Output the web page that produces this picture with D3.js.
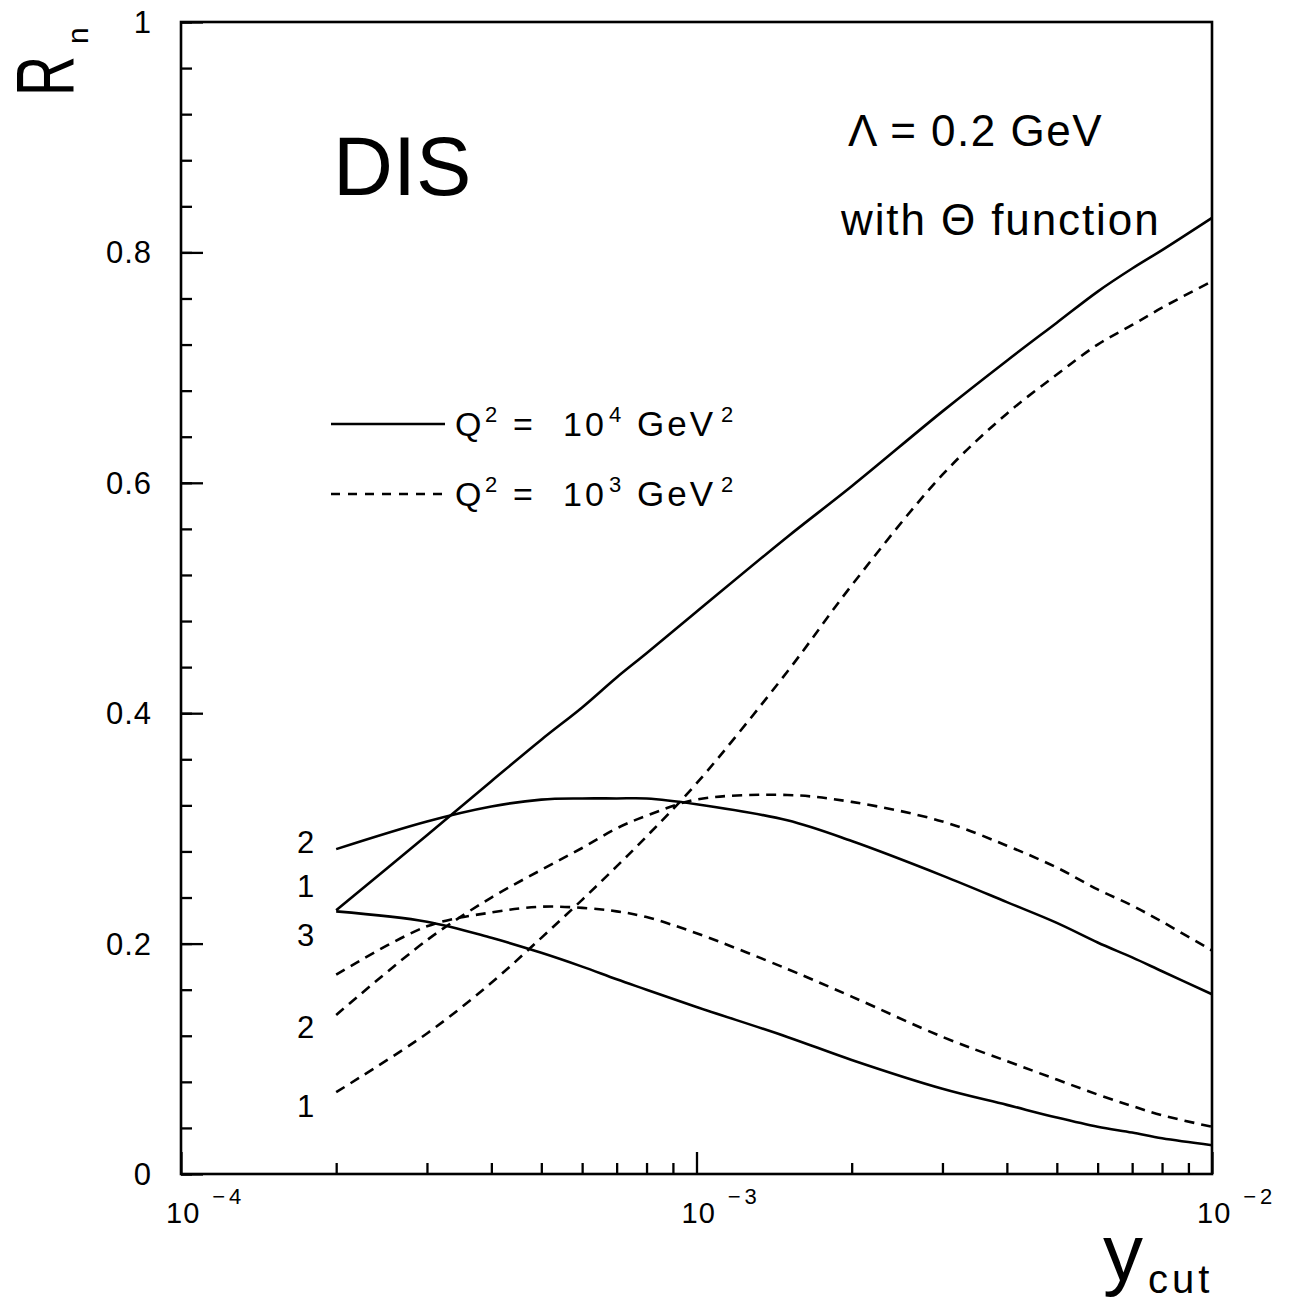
<!DOCTYPE html>
<html>
<head>
<meta charset="utf-8">
<script src="https://cdn.jsdelivr.net/npm/d3@7/dist/d3.min.js"></script>
<style>
  html, body { margin: 0; padding: 0; background: #fff; }
  svg { display: block; }
  text { font-family: "Liberation Sans", Arial, Helvetica, sans-serif; fill: #000; }
</style>
</head>
<body>
<svg id="chart" width="1293" height="1306"></svg>
<script>
// ---------------- data ----------------
const ycut = [2e-4, 3e-4, 4e-4, 5e-4, 6e-4, 7e-4, 8e-4, 1e-3, 1.5e-3, 2e-3, 3e-3, 4e-3, 5e-3, 6e-3, 7e-3, 8e-3, 1e-2];

// Q^2 = 10^4 GeV^2 (solid)
const solid1 = [0.229, 0.294, 0.341, 0.377, 0.405, 0.431, 0.452, 0.488, 0.553, 0.597, 0.662, 0.706, 0.739, 0.766, 0.786, 0.802, 0.830];
const solid2 = [0.282, 0.306, 0.319, 0.325, 0.326, 0.326, 0.326, 0.321, 0.307, 0.289, 0.259, 0.236, 0.218, 0.201, 0.188, 0.176, 0.156];
const solid3 = [0.228, 0.219, 0.205, 0.192, 0.180, 0.169, 0.160, 0.145, 0.119, 0.099, 0.074, 0.060, 0.049, 0.041, 0.036, 0.031, 0.025];

// Q^2 = 10^3 GeV^2 (dashed)
const dashed1 = [0.071, 0.122, 0.166, 0.205, 0.238, 0.267, 0.293, 0.339, 0.436, 0.511, 0.607, 0.660, 0.694, 0.720, 0.737, 0.752, 0.775];
const dashed2 = [0.138, 0.203, 0.240, 0.264, 0.283, 0.300, 0.311, 0.325, 0.329, 0.323, 0.306, 0.285, 0.266, 0.247, 0.233, 0.219, 0.194];
const dashed3 = [0.173, 0.215, 0.227, 0.232, 0.231, 0.228, 0.223, 0.209, 0.178, 0.154, 0.119, 0.098, 0.082, 0.069, 0.059, 0.051, 0.041];

const yMajorTicks = [0, 0.2, 0.4, 0.6, 0.8, 1];
const yTickLabels = ["0", "0.2", "0.4", "0.6", "0.8", "1"];
const yMinorTicks = d3.range(0, 1.0001, 0.04);
const xDecadeExps = [-4, -3, -2];
const xMinorMultipliers = [2, 3, 4, 5, 6, 7, 8, 9];

const curveLabels = ["2", "1", "3", "2", "1"];
const curveLabelValues = [0.288, 0.250, 0.2075, 0.128, 0.059];

const legendExponents = ["4", "3"];

// ---------------- layout ----------------
const svg = d3.select("#chart");
const L = 181, R = 1212, T = 22, B = 1174;
const x = d3.scaleLog().domain([1e-4, 1e-2]).range([L, R]);
const y = d3.scaleLinear().domain([0, 1]).range([B, T]);

const g = svg.append("g");

const xMinor = [];
xDecadeExps.slice(0, -1).forEach(e => xMinorMultipliers.forEach(m => xMinor.push(m * Math.pow(10, e))));
const xMajor = xDecadeExps.map(e => Math.pow(10, e));

function styleAxis(sel) {
  sel.select(".domain").remove();
  sel.selectAll("line").attr("stroke", "#000").attr("stroke-width", 2.3);
  sel.selectAll("text").remove();
}

g.append("g").attr("transform", `translate(0,${B})`)
  .call(d3.axisBottom(x).tickValues(xMinor).tickSize(-11).tickFormat(""))
  .call(styleAxis);
g.append("g").attr("transform", `translate(0,${B})`)
  .call(d3.axisBottom(x).tickValues(xMajor).tickSize(-22).tickFormat(""))
  .call(styleAxis);
g.append("g").attr("transform", `translate(${L},0)`)
  .call(d3.axisLeft(y).tickValues(yMinorTicks).tickSize(-11).tickFormat(""))
  .call(styleAxis);
g.append("g").attr("transform", `translate(${L},0)`)
  .call(d3.axisLeft(y).tickValues(yMajorTicks).tickSize(-22).tickFormat(""))
  .call(styleAxis);

// frame
g.append("rect").attr("x", L).attr("y", T).attr("width", R - L).attr("height", B - T)
  .attr("fill", "none").attr("stroke", "#000").attr("stroke-width", 2.6);

// y tick labels
g.selectAll(".ylab").data(yMajorTicks).enter().append("text")
  .attr("x", 152).attr("y", d => y(d) + 11)
  .attr("text-anchor", "end").attr("font-size", 31).attr("letter-spacing", 1)
  .text((d, i) => yTickLabels[i]);

// x tick labels 10^e
xDecadeExps.forEach(e => {
  const t = g.append("text").attr("x", x(Math.pow(10, e)) - 15).attr("y", 1223).attr("font-size", 29).attr("letter-spacing", 1);
  t.append("tspan").text("10");
  t.append("tspan").attr("dx", 12).attr("dy", -19).attr("font-size", 22).attr("letter-spacing", 4).text("\u2212" + Math.abs(e));
});

// axis titles
const yt = g.append("text").attr("transform", "translate(73,96) rotate(-90)").attr("font-size", 82);
yt.append("tspan").text("R").attr("textLength", 40).attr("lengthAdjust", "spacingAndGlyphs");
g.append("text").attr("transform", "translate(88,44) rotate(-90)").attr("font-size", 30).text("n");

const xt = g.append("text").attr("x", 1103).attr("y", 1280).attr("font-size", 80);
xt.append("tspan").text("y");
xt.append("tspan").attr("font-size", 40).attr("dx", 5).attr("dy", 13).attr("letter-spacing", 4).text("cut");

// annotations
g.append("text").attr("x", 333).attr("y", 195).attr("font-size", 83).text("DIS");
g.append("text").attr("x", 848).attr("y", 146).attr("font-size", 44).attr("letter-spacing", 1.5).text("\u039B = 0.2 GeV");
g.append("text").attr("x", 841).attr("y", 235).attr("font-size", 44).attr("letter-spacing", 1.9).text("with \u0398 function");

// curves
const line = d3.line().x((d, i) => x(ycut[i])).y(d => y(d)).curve(d3.curveCatmullRom.alpha(0.5));
const series = [
  { v: solid1, dash: null }, { v: solid2, dash: null }, { v: solid3, dash: null },
  { v: dashed1, dash: "10,7" }, { v: dashed2, dash: "10,7" }, { v: dashed3, dash: "10,7" }
];
g.selectAll(".curve").data(series).enter().append("path")
  .attr("d", d => line(d.v))
  .attr("fill", "none").attr("stroke", "#000").attr("stroke-width", 2.6)
  .attr("stroke-dasharray", d => d.dash);

// curve labels
g.selectAll(".clab").data(curveLabels).enter().append("text")
  .attr("x", x(ycut[0]) - 22).attr("y", (d, i) => y(curveLabelValues[i]) + 11)
  .attr("text-anchor", "end").attr("font-size", 31)
  .text(d => d);

// legend
const legY = [424, 494];
const legDash = [null, "9,8"];
legY.forEach((ly, k) => {
  g.append("line").attr("x1", 331).attr("x2", 445).attr("y1", ly).attr("y2", ly)
    .attr("stroke", "#000").attr("stroke-width", 2.3).attr("stroke-dasharray", legDash[k]);
  const t = g.append("g").attr("transform", `translate(455,${ly + 12})`);
  t.append("text").attr("x", 0).attr("font-size", 34).text("Q");
  t.append("text").attr("x", 30).attr("y", -14).attr("font-size", 22).text("2");
  t.append("text").attr("x", 58).attr("font-size", 34).attr("transform", "scale(1,1)").text("=");
  t.append("text").attr("x", 108).attr("font-size", 34).attr("letter-spacing", 3).text("10");
  t.append("text").attr("x", 154).attr("y", -14).attr("font-size", 22).text(legendExponents[k]);
  t.append("text").attr("x", 182).attr("font-size", 35).attr("letter-spacing", 3).text("GeV");
  t.append("text").attr("x", 266).attr("y", -14).attr("font-size", 22).text("2");
});
</script>
</body>
</html>
